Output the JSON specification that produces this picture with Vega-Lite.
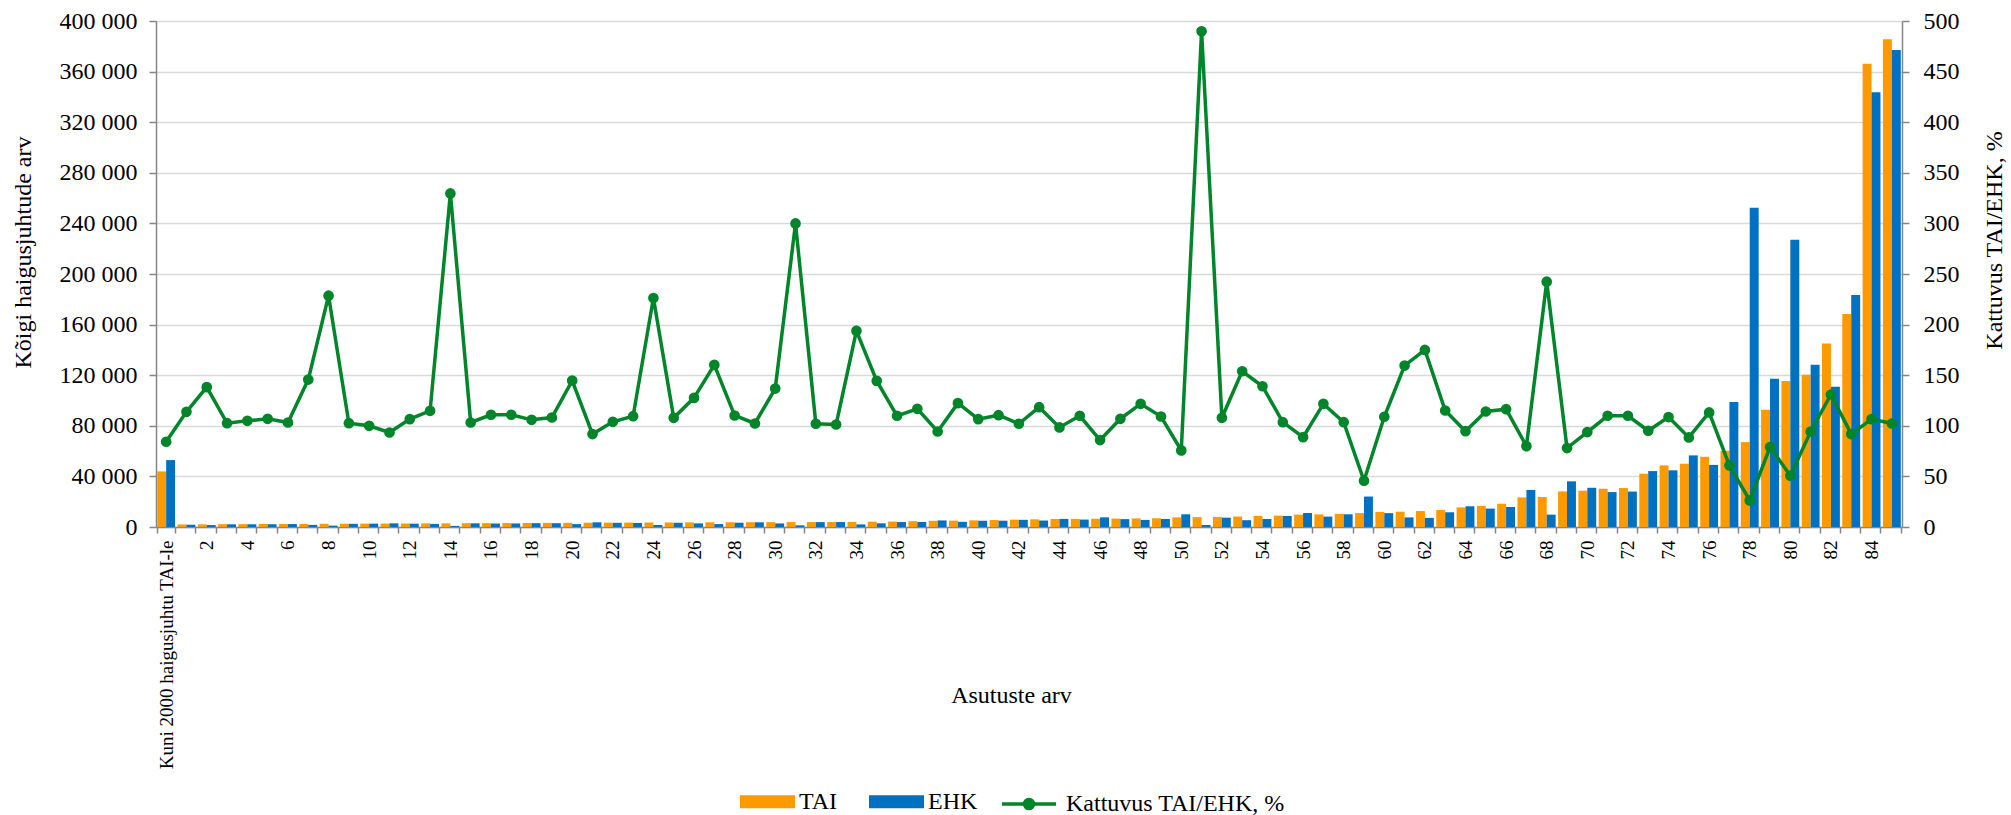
{
"$schema": "https://vega.github.io/schema/vega-lite/v6.json",
"width": 1746, "height": 506,
"autosize": "none",
"padding": {"left": 156, "top": 21, "right": 109, "bottom": 288},
"background": "white",
"config": {"view": {"stroke": null}, "font": "Liberation Serif"},
"data": {"values": [
{"a":"Kuni 2000 haigusjuhtu TAI-le","TAI":43950,"EHK":52900,"K":84.2},
{"a":"1","TAI":2050,"EHK":1800,"K":113.8},
{"a":"2","TAI":2100,"EHK":1520,"K":138.2},
{"a":"3","TAI":2200,"EHK":2140,"K":102.6},
{"a":"4","TAI":2250,"EHK":2150,"K":104.9},
{"a":"5","TAI":2350,"EHK":2200,"K":106.9},
{"a":"6","TAI":2400,"EHK":2320,"K":103.3},
{"a":"7","TAI":2450,"EHK":1680,"K":145.7},
{"a":"8","TAI":2500,"EHK":1090,"K":228.6},
{"a":"9","TAI":2600,"EHK":2530,"K":102.6},
{"a":"10","TAI":2650,"EHK":2650,"K":100.0},
{"a":"11","TAI":2700,"EHK":2890,"K":93.4},
{"a":"12","TAI":2800,"EHK":2630,"K":106.6},
{"a":"13","TAI":2850,"EHK":2480,"K":114.8},
{"a":"14","TAI":2900,"EHK":880,"K":329.6},
{"a":"15","TAI":3000,"EHK":2900,"K":103.3},
{"a":"16","TAI":3050,"EHK":2750,"K":110.9},
{"a":"17","TAI":3100,"EHK":2800,"K":110.9},
{"a":"18","TAI":3200,"EHK":3020,"K":105.9},
{"a":"19","TAI":3250,"EHK":3000,"K":108.2},
{"a":"20","TAI":3300,"EHK":2280,"K":144.7},
{"a":"21","TAI":3400,"EHK":3700,"K":91.8},
{"a":"22","TAI":3450,"EHK":3320,"K":103.9},
{"a":"23","TAI":3500,"EHK":3200,"K":109.5},
{"a":"24","TAI":3550,"EHK":1570,"K":226.3},
{"a":"25","TAI":3600,"EHK":3340,"K":107.9},
{"a":"26","TAI":3650,"EHK":2860,"K":127.6},
{"a":"27","TAI":3700,"EHK":2310,"K":160.2},
{"a":"28","TAI":3750,"EHK":3400,"K":110.2},
{"a":"29","TAI":3800,"EHK":3710,"K":102.3},
{"a":"30","TAI":3850,"EHK":2810,"K":136.8},
{"a":"31","TAI":3900,"EHK":1300,"K":300.0},
{"a":"32","TAI":3920,"EHK":3840,"K":102.0},
{"a":"33","TAI":3940,"EHK":3890,"K":101.3},
{"a":"34","TAI":3950,"EHK":2040,"K":193.8},
{"a":"35","TAI":4200,"EHK":2910,"K":144.4},
{"a":"36","TAI":4300,"EHK":3910,"K":109.9},
{"a":"37","TAI":4600,"EHK":3940,"K":116.8},
{"a":"38","TAI":4900,"EHK":5190,"K":94.4},
{"a":"39","TAI":5000,"EHK":4090,"K":122.4},
{"a":"40","TAI":5260,"EHK":4930,"K":106.6},
{"a":"41","TAI":5500,"EHK":4980,"K":110.5},
{"a":"42","TAI":5790,"EHK":5680,"K":102.0},
{"a":"43","TAI":6050,"EHK":5110,"K":118.4},
{"a":"44","TAI":6300,"EHK":6400,"K":98.4},
{"a":"45","TAI":6450,"EHK":5870,"K":109.9},
{"a":"46","TAI":6550,"EHK":7630,"K":85.9},
{"a":"47","TAI":6650,"EHK":6220,"K":106.9},
{"a":"48","TAI":6800,"EHK":5590,"K":121.7},
{"a":"49","TAI":6900,"EHK":6320,"K":109.2},
{"a":"50","TAI":7600,"EHK":10040,"K":75.7},
{"a":"51","TAI":7800,"EHK":1590,"K":489.8},
{"a":"52","TAI":7950,"EHK":7370,"K":107.9},
{"a":"53","TAI":8300,"EHK":5390,"K":153.9},
{"a":"54","TAI":8800,"EHK":6330,"K":139.1},
{"a":"55","TAI":9000,"EHK":8690,"K":103.6},
{"a":"56","TAI":9800,"EHK":11040,"K":88.8},
{"a":"57","TAI":10000,"EHK":8220,"K":121.7},
{"a":"58","TAI":10400,"EHK":10040,"K":103.6},
{"a":"59","TAI":11000,"EHK":24070,"K":45.7},
{"a":"60","TAI":11900,"EHK":10930,"K":108.9},
{"a":"61","TAI":12100,"EHK":7590,"K":159.5},
{"a":"62","TAI":12600,"EHK":7200,"K":175.0},
{"a":"63","TAI":13400,"EHK":11640,"K":115.1},
{"a":"64","TAI":15500,"EHK":16370,"K":94.7},
{"a":"65","TAI":16600,"EHK":14550,"K":114.1},
{"a":"66","TAI":18400,"EHK":15810,"K":116.4},
{"a":"67","TAI":23400,"EHK":29290,"K":79.9},
{"a":"68","TAI":23700,"EHK":9780,"K":242.4},
{"a":"69","TAI":28160,"EHK":36100,"K":78.0},
{"a":"70","TAI":28700,"EHK":31000,"K":93.8},
{"a":"71","TAI":30260,"EHK":27600,"K":109.9},
{"a":"72","TAI":30790,"EHK":28000,"K":109.9},
{"a":"73","TAI":42100,"EHK":44200,"K":95.1},
{"a":"74","TAI":48700,"EHK":44800,"K":108.6},
{"a":"75","TAI":50000,"EHK":56600,"K":88.5},
{"a":"76","TAI":55500,"EHK":49100,"K":113.2},
{"a":"77","TAI":60260,"EHK":98800,"K":60.9},
{"a":"78","TAI":67100,"EHK":252400,"K":26.3},
{"a":"79","TAI":92600,"EHK":117100,"K":79.0},
{"a":"80","TAI":115500,"EHK":227000,"K":50.7},
{"a":"81","TAI":120300,"EHK":128200,"K":94.4},
{"a":"82","TAI":145000,"EHK":110800,"K":130.9},
{"a":"83","TAI":168400,"EHK":183400,"K":91.8},
{"a":"84","TAI":366300,"EHK":343700,"K":106.6},
{"a":"85","TAI":385500,"EHK":377100,"K":102.3}
]},
"encoding": {
  "x": {"field": "a", "type": "nominal", "sort": null,
    "scale": {"paddingInner": 0.12, "paddingOuter": 0.06},
    "axis": {"title": "Asutuste arv", "labelAngle": -90, "labelAlign": "right", "labelBaseline": "middle",
      "labelFontSize": 19, "labelColor": "black", "labelFont": "Liberation Serif", "labelOverlap": false,
      "labelPadding": 7, "labelLimit": 0, "labelBound": false,
      "labelExpr": "datum.value == 'Kuni 2000 haigusjuhtu TAI-le' || toNumber(datum.value) % 2 == 0 ? datum.label : ''",
      "tickBand": "extent", "tickSize": 6, "tickColor": "#868686", "tickWidth": 1.5,
      "domainColor": "#868686", "domainWidth": 1.5, "grid": false,
      "titleFont": "Liberation Serif", "titleFontSize": 24, "titleFontWeight": "normal", "titleColor": "black",
      "titleX": 855, "titleY": 168, "titleBaseline": "middle", "titleAlign": "center"}
  }
},
"layer": [
  {
    "transform": [{"fold": ["TAI", "EHK"], "as": ["s", "v"]}],
    "mark": {"type": "bar"},
    "encoding": {
      "xOffset": {"field": "s", "type": "nominal", "sort": ["TAI", "EHK"], "scale": {"paddingInner": 0, "paddingOuter": 0}},
      "y": {"field": "v", "type": "quantitative", "scale": {"domain": [0, 400000], "nice": false},
        "axis": {"title": "Kõigi haigusjuhtude arv",
          "values": [0, 40000, 80000, 120000, 160000, 200000, 240000, 280000, 320000, 360000, 400000],
          "labelExpr": "replace(format(datum.value, ','), ',', ' ')",
          "labelFont": "Liberation Serif", "labelFontSize": 24, "labelColor": "black", "labelPadding": 12,
          "tickSize": 7, "tickColor": "#868686", "tickWidth": 1.5,
          "domainColor": "#868686", "domainWidth": 1.5,
          "grid": true, "gridColor": "#D9D9D9", "gridWidth": 1.5,
          "titleFont": "Liberation Serif", "titleFontSize": 24, "titleFontWeight": "normal", "titleColor": "black",
          "titleAngle": 270, "titleX": -133, "titleY": 231, "titleBaseline": "middle", "titleAlign": "center"}},
      "color": {"field": "s", "type": "nominal", "sort": ["TAI", "EHK"],
        "scale": {"domain": ["TAI", "EHK"], "range": ["#FF9900", "#0070C0"]},
        "legend": {"orient": "none", "legendX": 584, "legendY": 753, "direction": "horizontal", "title": null,
          "symbolType": "M-1,-0.236H1V0.236H-1Z", "symbolSize": 3025, "symbolStrokeWidth": 0,
          "labelFont": "Liberation Serif", "labelFontSize": 24, "labelColor": "black", "labelLimit": 0,
          "columnPadding": 31, "labelOffset": 4}}
    }
  },
  {
    "mark": {"type": "line", "color": "#00852A", "strokeWidth": 3.5,
      "point": {"filled": true, "size": 75, "color": "#00852A"}},
    "encoding": {
      "y": {"field": "K", "type": "quantitative", "scale": {"domain": [0, 500], "nice": false},
        "axis": {"orient": "right", "title": "Kattuvus TAI/EHK, %",
          "values": [0, 50, 100, 150, 200, 250, 300, 350, 400, 450, 500],
          "labelFont": "Liberation Serif", "labelFontSize": 24, "labelColor": "black", "labelPadding": 14,
          "tickSize": 7, "tickColor": "#868686", "tickWidth": 1.5,
          "domainColor": "#868686", "domainWidth": 1.5, "grid": false,
          "titleFont": "Liberation Serif", "titleFontSize": 24, "titleFontWeight": "normal", "titleColor": "black",
          "titleAngle": 270, "titleX": 92, "titleY": 219, "titleBaseline": "middle", "titleAlign": "center"}},
      "stroke": {"datum": "Kattuvus TAI/EHK, %", "scale": {"range": ["#00852A"]},
        "legend": {"orient": "none", "legendX": 844, "legendY": 754, "title": null,
          "symbolType": "M-1,0H1M-0.167,0A0.167,0.167,0,1,1,0.167,0A0.167,0.167,0,1,1,-0.167,0Z",
          "symbolSize": 2916, "symbolStrokeWidth": 3.5, "symbolFillColor": "#00852A",
          "labelFont": "Liberation Serif", "labelFontSize": 24, "labelColor": "black", "labelLimit": 0, "labelOffset": 8}}
    }
  }
],
"resolve": {"scale": {"y": "independent"}}
}
